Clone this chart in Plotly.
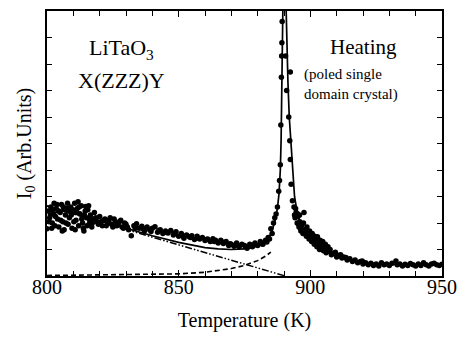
import plotly.graph_objects as go

# Measured Raman intensity I0 vs temperature (heating run)
temp_pts = [
    800.0, 800.5, 801.0, 801.5, 802.0, 802.5, 803.0, 803.5, 804.0, 804.5,
    805.0, 805.5, 806.0, 806.5, 807.0, 807.5, 808.0, 808.5, 809.0, 809.5,
    810.0, 810.5, 811.0, 811.5, 812.0, 812.5, 813.0, 813.5, 814.0, 814.5,
    815.0, 815.5, 816.0, 816.5, 817.0, 817.5, 818.0, 819.0, 820.0, 821.0,
    822.0, 823.0, 824.0, 825.0, 826.0, 827.0, 828.0, 829.0, 830.0, 831.0,
    832.0, 833.0, 834.0, 835.0, 836.0, 837.0, 838.0, 839.0, 840.0, 841.0,
    842.0, 843.0, 844.0, 845.0, 846.0, 847.0, 848.0, 849.0, 850.0, 851.0,
    852.0, 853.0, 854.0, 855.0, 856.0, 857.0, 858.0, 859.0, 860.0, 861.0,
    862.0, 863.0, 864.0, 865.0, 866.0, 867.0, 868.0, 869.0, 870.0, 871.0,
    872.0, 873.0, 874.0, 875.0, 876.0, 877.0, 878.0, 879.0, 880.0, 881.0,
    882.0, 883.0, 884.0, 885.0, 885.5, 886.0, 886.5, 887.0, 887.5, 888.0,
    888.3, 888.6, 888.8, 889.0, 889.1, 889.2, 889.3,
    890.6, 891.0, 892.4, 891.8, 892.2, 892.4, 892.7, 893.2, 893.8, 894.2,
    894.6, 895.0, 895.3, 895.7, 896.0, 896.4, 896.8, 897.2, 897.6, 898.0,
    898.5, 899.0, 899.5, 900.0, 900.5, 901.0, 901.5, 902.0, 902.5, 903.0,
    903.5, 904.0, 905.0, 905.5, 906.0, 907.0, 908.0, 909.0, 910.0, 911.0,
    912.0, 913.0, 914.0, 915.0, 916.0, 917.0, 918.0, 919.0, 919.7, 920.0,
    921.0, 922.0, 923.0, 924.0, 925.0, 926.0, 927.0, 928.0, 929.0, 930.0,
    931.0, 932.5, 933.0, 934.0, 935.0, 936.0, 937.0, 938.0, 939.0, 940.0,
    941.0, 942.0, 943.0, 944.0, 945.0, 946.0, 947.0, 948.0, 949.0, 950.0,
    # denser readings around 800-835 K and 870-910 K
    800.8, 801.3, 802.2, 803.2, 804.2, 805.2, 806.2, 807.2, 808.2, 809.2,
    810.2, 811.2, 812.2, 813.2, 814.2, 815.2, 816.2, 817.2, 818.5, 819.5,
    820.5, 821.5, 822.5, 823.5, 824.5, 825.5, 826.5, 827.5, 828.5, 829.5,
    830.5, 833.5, 836.5, 839.5, 842.5, 845.5, 848.5, 851.5, 854.5, 857.5,
    860.5, 863.5, 866.5, 869.5, 872.5, 875.5, 878.5, 881.5, 883.5, 884.5,
    894.0, 895.5, 896.2, 897.0, 898.2, 899.2, 900.2, 901.2, 902.2, 903.2,
    904.5, 906.5, 908.5, 910.5, 912.5,
    801.8, 803.8, 805.8, 807.8, 809.8, 811.8, 813.8, 815.8, 802.7, 806.7,
    810.7, 814.7, 894.4, 895.1, 895.9, 896.6, 897.4, 898.7, 899.7, 900.7,
    901.7, 902.7, 903.7, 904.7, 905.7, 906.7, 907.5, 909.5, 911.5, 913.5,
]
intensity_pts = [
    1.78, 2.45, 2.20, 2.60, 2.00, 2.35, 1.90, 2.55, 2.15, 1.85,
    2.40, 2.70, 2.05, 1.75, 2.30, 2.55, 1.95, 2.20, 2.60, 1.80,
    2.40, 2.75, 2.10, 2.55, 1.90, 2.35, 2.65, 2.00, 1.70, 2.45,
    2.20, 2.50, 1.95, 2.30, 1.85, 2.15, 2.40, 2.05, 2.25, 1.90,
    2.15, 2.00, 2.20, 1.85, 2.05, 1.95, 2.10, 1.80, 1.95, 1.75,
    1.52, 1.90, 1.97, 1.80, 1.88, 1.70, 1.85, 1.75, 1.80, 1.86,
    1.65, 1.75, 1.60, 1.70, 1.62, 1.72, 1.55, 1.67, 1.50, 1.60,
    1.42, 1.55, 1.48, 1.52, 1.38, 1.50, 1.40, 1.45, 1.34, 1.40,
    1.30, 1.41, 1.35, 1.25, 1.35, 1.23, 1.30, 1.15, 1.20, 1.12,
    1.25, 1.10, 1.20, 1.15, 1.05, 1.20, 1.10, 1.25, 1.15, 1.30,
    1.20, 1.35, 1.45, 1.78, 1.60, 2.00, 2.20, 2.34, 2.60, 3.20,
    3.60, 4.20, 5.70, 7.50, 8.30, 8.80, 9.60,
    8.30, 7.00, 7.70, 6.00, 5.10, 4.40, 3.46, 2.84, 2.60, 2.20,
    2.40, 2.00, 2.25, 1.85, 2.05, 1.70, 1.95, 1.60, 2.40, 1.75,
    1.50, 1.65, 1.40, 1.55, 1.30, 1.45, 1.20, 1.35, 1.10, 1.25,
    1.00, 1.15, 0.95, 1.05, 0.88, 0.95, 0.80, 0.85, 0.72, 0.78,
    0.68, 0.70, 0.60, 0.65, 0.55, 0.60, 0.50, 0.55, 0.57, 0.45,
    0.50, 0.42, 0.48, 0.40, 0.45, 0.38, 0.50, 0.42, 0.45, 0.40,
    0.48, 0.57, 0.42, 0.45, 0.38, 0.44, 0.40, 0.47, 0.42, 0.38,
    0.45, 0.40, 0.50, 0.42, 0.38, 0.45, 0.48, 0.42, 0.40, 0.44,
    2.05, 2.30, 2.50, 2.25, 2.45, 2.10, 2.60, 2.00, 2.45, 2.30,
    2.05, 2.40, 2.60, 2.15, 2.30, 1.90, 2.10, 2.00, 2.20, 1.95,
    2.05, 2.10, 1.90, 2.10, 1.95, 2.15, 1.90, 2.05, 1.85, 2.00,
    1.85, 1.80, 1.78, 1.68, 1.72, 1.64, 1.60, 1.52, 1.45, 1.42,
    1.38, 1.30, 1.28, 1.22, 1.15, 1.10, 1.18, 1.22, 1.28, 1.40,
    2.30, 1.95, 1.80, 1.75, 1.60, 1.52, 1.40, 1.35, 1.25, 1.15,
    1.05, 0.92, 0.85, 0.75, 0.72,
    1.80, 2.70, 1.70, 2.75, 2.50, 2.80, 1.80, 2.65, 2.75, 2.50,
    1.75, 2.62, 2.55, 2.35, 2.30, 1.90, 2.00, 1.85, 1.70, 1.60,
    1.50, 1.48, 1.35, 1.30, 1.20, 1.10, 1.00, 0.90, 0.80, 0.70,
]

# Total fit (solid curve)
fit_temp = [
    800, 810, 820, 830, 840, 850, 855, 860, 865, 870, 875, 878, 881, 883,
    884.5, 885.6, 886.6, 887.5, 888.1, 888.6, 888.9, 889.1, 889.3, 889.45,
    890.1,
    890.7, 891.0, 891.5, 892.0, 892.7, 893.3, 894.0, 895.0, 896.5, 898.0,
    900, 903, 906, 910, 915, 920, 925, 930, 940, 950,
]
fit_total = [
    2.65, 2.37, 2.08, 1.80, 1.52, 1.27, 1.16, 1.07, 1.02, 1.00, 1.02, 1.07, 1.17, 1.30,
    1.48, 1.75, 2.10, 2.55, 3.10, 4.00, 5.10, 6.50, 8.30, 10.5,
    14.0,
    10.5, 9.00, 7.30, 6.00, 4.90, 3.90, 3.00, 2.40, 1.85, 1.55,
    1.32, 1.10, 0.92, 0.75, 0.60, 0.51, 0.47, 0.44, 0.42, 0.40,
]

# Soft-mode contribution (dash-dot-dot)
soft_temp = [800, 890.5]
soft_val = [2.63, 0.0]

# Central-peak contribution (dashed)
central_temp = [800, 830, 850, 860, 865, 870, 875, 880, 883, 885]
central_val = [0.02, 0.04, 0.08, 0.14, 0.20, 0.28, 0.40, 0.58, 0.75, 0.90]

SERIF = "Liberation Serif"

fig = go.Figure()
fig.add_trace(go.Scatter(
    x=central_temp, y=central_val, mode="lines",
    line=dict(color="black", width=1.6, dash="5px,3px"),
))
fig.add_trace(go.Scatter(
    x=soft_temp, y=soft_val, mode="lines",
    line=dict(color="black", width=1.5, dash="7px,2px,1.5px,2px,1.5px,2px"),
))
fig.add_trace(go.Scatter(
    x=fit_temp, y=fit_total, mode="lines",
    line=dict(color="black", width=1.7),
))
fig.add_trace(go.Scatter(
    x=temp_pts, y=intensity_pts, mode="markers",
    marker=dict(color="black", size=5.5),
    cliponaxis=True,
))

fig.update_layout(
    width=466, height=337,
    margin=dict(l=47, r=23, t=9, b=59),
    paper_bgcolor="white", plot_bgcolor="white",
    showlegend=False,
    font=dict(family=SERIF, color="black", size=20),
    xaxis=dict(
        range=[800, 950], tickvals=[800, 850, 900, 950],
        ticks="inside", ticklen=6, tickwidth=1.2, tickcolor="black",
        minor=dict(dtick=10, ticks="inside", ticklen=5, tickwidth=1.2, tickcolor="black"),
        showline=True, linecolor="black", linewidth=1.8, mirror="ticks",
        showgrid=False, zeroline=False,
        tickfont=dict(family=SERIF, size=20),
        ticklabelstandoff=-8,
        title=dict(text="Temperature (K)", font=dict(family=SERIF, size=20), standoff=16),
    ),
    yaxis=dict(
        range=[0, 10], dtick=1, showticklabels=False,
        ticks="inside", ticklen=5, tickwidth=1.2, tickcolor="black",
        showline=True, linecolor="black", linewidth=1.8, mirror="ticks",
        showgrid=False, zeroline=False,
        title=dict(text="I<sub>0</sub> (Arb.Units)", font=dict(family=SERIF, size=20), standoff=8),
    ),
    annotations=[
        dict(text="LiTaO<sub>3</sub>", xref="paper", yref="paper", x=0.189, y=0.855,
             xanchor="center", yanchor="middle",
             showarrow=False, font=dict(family=SERIF, size=22)),
        dict(text="X(ZZZ)Y", xref="paper", yref="paper", x=0.189, y=0.736,
             xanchor="center", yanchor="middle",
             showarrow=False, font=dict(family=SERIF, size=22)),
        dict(text="Heating", xref="paper", yref="paper", x=0.800, y=0.866,
             xanchor="center", yanchor="middle",
             showarrow=False, font=dict(family=SERIF, size=21)),
        dict(text="(poled single<br>domain crystal)", xref="paper", yref="paper",
             x=0.646, y=0.721, xanchor="left", yanchor="middle", align="left",
             showarrow=False, font=dict(family=SERIF, size=15)),
    ],
)

fig.write_html("out.html")
